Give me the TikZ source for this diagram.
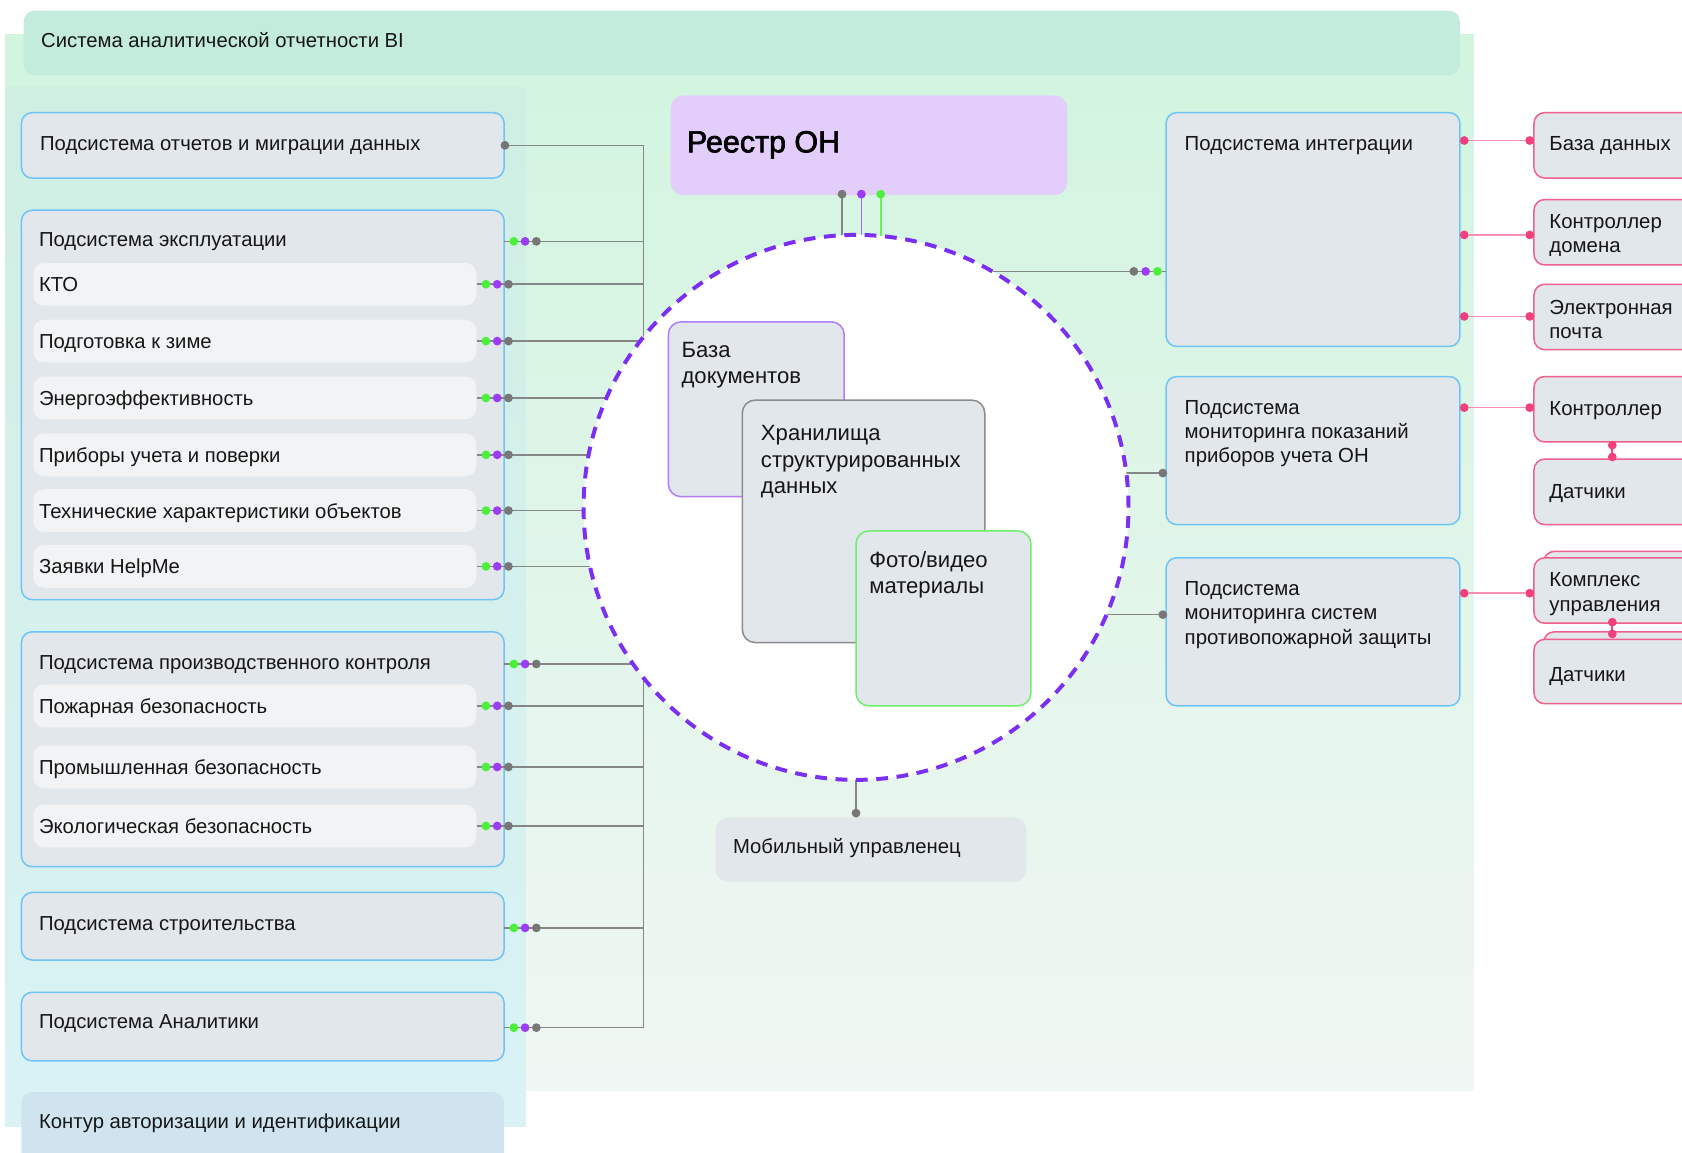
\documentclass[tikz,border=0pt]{standalone}
\usepackage{fontspec}
\setmainfont{Liberation Sans}
\newfontfamily\medfont[FakeBold=2.2]{Liberation Sans}
\usetikzlibrary{fit}
\definecolor{bgtop}{HTML}{D1F5DF}
\definecolor{bgbot}{HTML}{F0F6F3}
\definecolor{coltop}{HTML}{CFEFE3}
\definecolor{colbot}{HTML}{DAF2F6}
\definecolor{hdr}{HTML}{C3ECDC}
\definecolor{boxfill}{HTML}{E2E7EB}
\definecolor{itemfill}{HTML}{F1F3F5}
\definecolor{boxblue}{HTML}{6EC4F5}
\definecolor{authfill}{HTML}{D0E4F0}
\definecolor{reestrfill}{HTML}{E3CEFB}
\definecolor{dotgreen}{HTML}{4CF03C}
\definecolor{dotpurple}{HTML}{9D3CF5}
\definecolor{dotgray}{HTML}{777777}
\definecolor{linegray}{HTML}{868686}
\definecolor{ringpurple}{HTML}{7B2FF2}
\definecolor{bazaborder}{HTML}{B27DF6}
\definecolor{hranborder}{HTML}{8C8C8C}
\definecolor{fotoborder}{HTML}{6DEE6D}
\definecolor{pinkdot}{HTML}{F2407E}
\definecolor{pinkline}{HTML}{F58DB4}
\definecolor{pinkborder}{HTML}{F0608F}
\definecolor{txtc}{HTML}{161616}

\newcommand\twol[2]{\vtop{\hbox{#1}\hbox{#2}}}
\newcommand\threel[3]{\vtop{\hbox{#1}\hbox{#2}\hbox{#3}}}

\tikzset{
  lbl/.style={font=\fontsize{9.45}{11.5}\selectfont, text=txtc, inner sep=0, anchor=base west},
  lblr/.style={font=\fontsize{9.5}{11.4}\selectfont, text=txtc, inner sep=0, anchor=base west},
  lblc/.style={font=\fontsize{10.3}{12.3}\selectfont, text=txtc, inner sep=0, anchor=base west},
  subbox/.style={draw=boxblue, fill=boxfill, line width=0.7pt, rounded corners=5pt, inner sep=0},
  itembox/.style={fill=itemfill, rounded corners=5pt, inner sep=0},
  extbox/.style={draw=pinkborder, fill=boxfill, line width=0.7pt, rounded corners=5pt, inner sep=0},
  storebox/.style={fill=boxfill, line width=0.7pt, rounded corners=6pt, inner sep=0},
  conn/.style={draw=linegray, line width=0.75pt},
  pconn/.style={draw=pinkline, line width=0.8pt},
  cdot/.style={circle, inner sep=0, minimum size=4.1pt},
  ring/.style={circle, fill=white, draw=ringpurple, line width=1.85pt, dash pattern=on 5.5pt off 4pt, minimum size=254pt, inner sep=0},
}

\newcommand\dtrip[3]{%
  \node[cdot, fill=dotgreen] (#1-g) at (#2,#3) {};
  \node[cdot, fill=dotpurple] (#1-p) at (#2+10.5,#3) {};
  \node[cdot, fill=dotgray] (#1-k) at (#2+21,#3) {};}

\newcommand\itemrow[3]{%
  \node[itembox, fit={(31,#2-20) (444,#2+20)}] (#1) {};
  \node[lbl] (#1-t) at (36,#2+7) {#3};
  \draw[conn] (#1.east) -- (#1.east -| bus);
  \dtrip{#1}{453}{#2}}

\newcommand\pinklink[3]{% name, y, target box
  \node[cdot, fill=pinkdot] (#1-a) at (1365,#2) {};
  \node[cdot, fill=pinkdot] (#1-b) at (1426,#2) {};
  \draw[pconn] (#1-a) -- (#1-b);}

\begin{document}
\begin{tikzpicture}[x=0.5pt, y=-0.5pt]
\useasboundingbox (0,0) rectangle (1568,1074);
\clip (0,0) rectangle (1568,1074);

% backgrounds
\shade[top color=bgtop, bottom color=bgbot] (5,32) rectangle (1374,1017);
\shade[top color=coltop, bottom color=colbot] (5,82) rectangle (490,1050);
\node[fill=hdr, rounded corners=5pt, inner sep=0, fit={(22,10) (1361,70)}] (hdr) {};
\node[lbl] (hdr-t) at (38,44) {Система аналитической отчетности BI};

\coordinate (bus) at (600,135);
\coordinate (bus2) at (600,958);
\coordinate (cc) at (798,473);
\draw[conn] (bus) -- (bus2);

% reports
\node[subbox, fit={(20,105) (470,166)}] (rep) {};
\node[lbl] (rep-t) at (37,140) {Подсистема отчетов и миграции данных};
\draw[conn] (rep.east) -- (rep.east -| bus);
\node[cdot, fill=dotgray] (rep-d) at (rep.east) {};

% exploitation
\node[subbox, fit={(20,196) (470,559)}] (expl) {};
\node[lbl] (expl-t) at (36,230) {Подсистема эксплуатации};
\coordinate (expl-o) at (470,225);
\draw[conn] (expl-o) -- (expl-o -| bus);
\dtrip{expl}{479}{225}
\itemrow{kto}{265}{КТО}
\itemrow{zima}{318}{Подготовка к зиме}
\itemrow{energo}{371}{Энергоэффективность}
\itemrow{pribor}{424}{Приборы учета и поверки}
\itemrow{tech}{476}{Технические характеристики объектов}
\itemrow{help}{528}{Заявки HelpMe}

% production control
\node[subbox, fit={(20,589) (470,808)}] (prod) {};
\node[lbl] (prod-t) at (36,624) {Подсистема производственного контроля};
\coordinate (prod-o) at (470,619);
\draw[conn] (prod-o) -- (prod-o -| bus);
\dtrip{prod}{479}{619}
\itemrow{fire}{658}{Пожарная безопасность}
\itemrow{indus}{715}{Промышленная безопасность}
\itemrow{eco}{770}{Экологическая безопасность}

% construction
\node[subbox, fit={(20,832) (470,895)}] (build) {};
\node[lbl] (build-t) at (36,867) {Подсистема строительства};
\coordinate (build-o) at (470,865);
\draw[conn] (build-o) -- (build-o -| bus);
\dtrip{build}{479}{865}

% analytics
\node[subbox, fit={(20,925) (470,989)}] (anal) {};
\node[lbl] (anal-t) at (36,959) {Подсистема Аналитики};
\coordinate (anal-o) at (470,958);
\draw[conn] (anal-o) -- (anal-o -| bus);
\dtrip{anal}{479}{958}

% auth
\node[fill=authfill, rounded corners=5pt, inner sep=0, fit={(20,1018) (470,1100)}] (auth) {};
\node[lbl] (auth-t) at (36,1052) {Контур авторизации и идентификации};

% Reestr
\node[fill=reestrfill, rounded corners=6pt, inner sep=0, fit={(625,89) (995,182)}] (reestr) {};
\node[inner sep=0, anchor=base west, text=black, font=\medfont\fontsize{14.2}{16}\selectfont] (reestr-t) at (640,142) {Реестр ОН};
\coordinate (rk) at (785,181);
\coordinate (rp) at (803,181);
\coordinate (rg) at (821,181);
\draw[conn] (rk) -- (rk |- cc);
\draw[draw=dotpurple!80, line width=0.7pt] (rp) -- (rp |- cc);
\draw[draw=dotgreen!85, line width=0.9pt] (rg) -- (rg |- cc);

% mobile
\node[fill=boxfill, rounded corners=6pt, inner sep=0, fit={(667,762) (957,822)}] (mob) {};
\node[lbl] (mob-t) at (683,796) {Мобильный управленец};
\coordinate (mobd) at (798,758);
\draw[conn] (mobd) -- (mobd |- cc);

% right subsystems
\node[subbox, fit={(1087,105) (1361,323)}] (integ) {};
\node[lblr] (integ-t) at (1104,140) {Подсистема интеграции};
\coordinate (integ-o) at (1087,253);
\draw[conn] (integ-o -| cc) -- (integ-o);

\node[subbox, fit={(1087,351) (1361,489)}] (mon1) {};
\node[lblr] (mon1-t) at (1104,386) {\threel{Подсистема}{мониторинга показаний}{приборов учета ОН}};
\coordinate (mon1-o) at (1084,441);
\draw[conn] (mon1-o -| cc) -- (mon1-o);

\node[subbox, fit={(1087,520) (1361,658)}] (mon2) {};
\node[lblr] (mon2-t) at (1104,555) {\threel{Подсистема}{мониторинга систем}{противопожарной защиты}};
\coordinate (mon2-o) at (1084,573);
\draw[conn] (mon2-o -| cc) -- (mon2-o);

% ring
\node[ring] (c) at (cc) {};

% stores
\node[storebox, draw=bazaborder, fit={(623,300) (787,463)}] (baza) {};
\node[lblc] (baza-t) at (635,333) {\twol{База}{документов}};
\node[storebox, draw=hranborder, fit={(692,373) (918,599)}] (hran) {};
\node[lblc] (hran-t) at (709,411) {\threel{Хранилища}{структурированных}{данных}};
\node[storebox, draw=fotoborder, fit={(798,495) (961,658)}] (foto) {};
\node[lblc] (foto-t) at (810,529) {\twol{Фото/видео}{материалы}};

% dots on top
\node[cdot, fill=dotgray] (rk-d) at (rk) {};
\node[cdot, fill=dotpurple] (rp-d) at (rp) {};
\node[cdot, fill=dotgreen] (rg-d) at (rg) {};
\node[cdot, fill=dotgray] (mob-d) at (mobd) {};
\node[cdot, fill=dotgray] (integ-k) at (1057,253) {};
\node[cdot, fill=dotpurple] (integ-p) at (1068,253) {};
\node[cdot, fill=dotgreen] (integ-g) at (1079,253) {};
\node[cdot, fill=dotgray] (mon1-d) at (mon1-o) {};
\node[cdot, fill=dotgray] (mon2-d) at (mon2-o) {};

% external systems
\node[extbox, fit={(1430,105) (1620,166)}] (db) {};
\node[lblr] (db-t) at (1444,140) {База данных};
\node[extbox, fit={(1430,186) (1620,247)}] (dc) {};
\node[lblr] (dc-t) at (1444,213) {\twol{Контроллер}{домена}};
\node[extbox, fit={(1430,265) (1620,326)}] (em) {};
\node[lblr] (em-t) at (1444,293) {\twol{Электронная}{почта}};
\node[extbox, fit={(1430,351) (1620,412)}] (ctrl) {};
\node[lblr] (ctrl-t) at (1444,387) {Контроллер};
\node[extbox, fit={(1430,428) (1620,489)}] (sens1) {};
\node[lblr] (sens1-t) at (1444,465) {Датчики};
\node[extbox, fit={(1439,514) (1630,575)}] (kompl-b) {};
\node[extbox, fit={(1430,520) (1620,581)}] (kompl) {};
\node[lblr] (kompl-t) at (1444,547) {\twol{Комплекс}{управления}};
\node[extbox, fit={(1439,589) (1630,650)}] (sens2-b) {};
\node[extbox, fit={(1430,596) (1620,656)}] (sens2) {};
\node[lblr] (sens2-t) at (1444,635) {Датчики};

\pinklink{l1}{131}{db}
\pinklink{l2}{219}{dc}
\pinklink{l3}{295}{em}
\pinklink{l4}{380}{ctrl}
\pinklink{l5}{553}{kompl}

\draw[pconn, draw=pinkdot] (1503,415) -- (1503,426);
\node[cdot, fill=pinkdot] (v1a) at (1503,415) {};
\node[cdot, fill=pinkdot] (v1b) at (1503,426) {};
\draw[pconn, draw=pinkdot] (1503,580) -- (1503,591);
\node[cdot, fill=pinkdot] (v2a) at (1503,580) {};
\node[cdot, fill=pinkdot] (v2b) at (1503,591) {};
\end{tikzpicture}
\end{document}
